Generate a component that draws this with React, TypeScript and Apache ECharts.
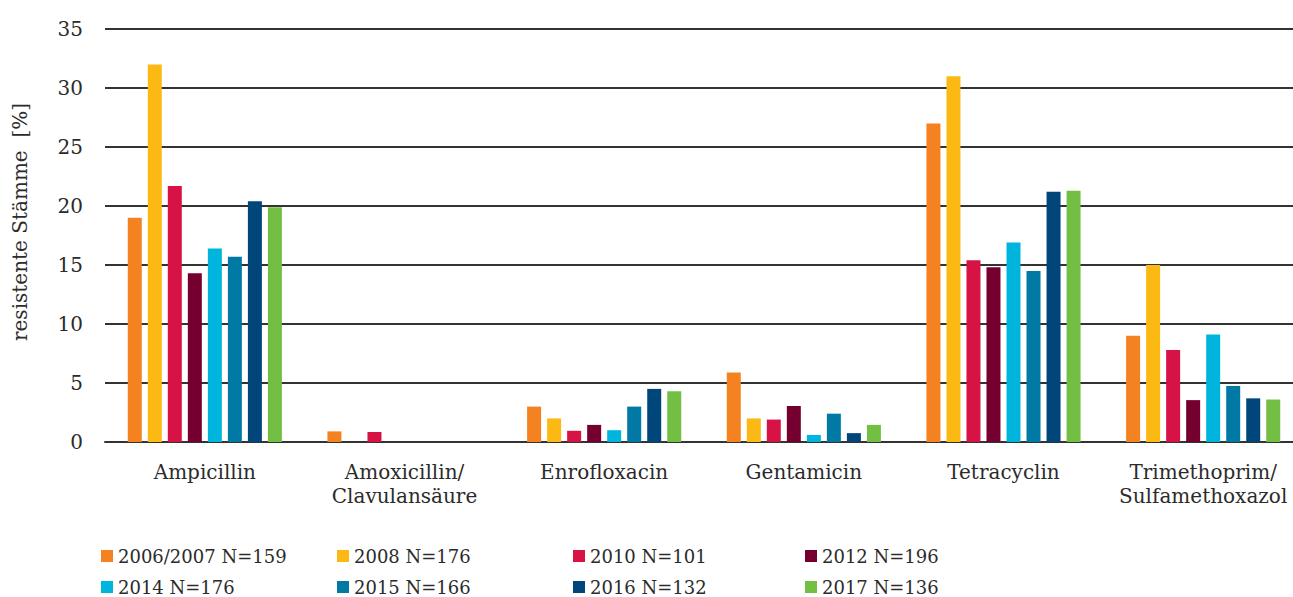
import React, { useEffect, useRef } from "react";
import * as echarts from "echarts";

const categories = [
  "Ampicillin",
  "Amoxicillin/\nClavulansäure",
  "Enrofloxacin",
  "Gentamicin",
  "Tetracyclin",
  "Trimethoprim/\nSulfamethoxazol",
];

const seriesNames = [
  "2006/2007 N=159",
  "2008 N=176",
  "2010 N=101",
  "2012 N=196",
  "2014 N=176",
  "2015 N=166",
  "2016 N=132",
  "2017 N=136",
];

const colors = ["#F58220", "#FDB913", "#D71345", "#750030", "#00B5DD", "#0079A5", "#00467A", "#72BF44"];

const v2006 = [19.0, 0.9, 3.0, 5.9, 27.0, 9.0];
const v2008 = [32.0, 0, 2.0, 2.0, 31.0, 15.0];
const v2010 = [21.7, 0.85, 0.95, 1.9, 15.4, 7.8];
const v2012 = [14.3, 0, 1.45, 3.05, 14.8, 3.55];
const v2014 = [16.4, 0, 1.0, 0.6, 16.9, 9.1];
const v2015 = [15.7, 0, 3.0, 2.4, 14.5, 4.75];
const v2016 = [20.4, 0, 4.5, 0.75, 21.2, 3.7];
const v2017 = [19.9, 0, 4.3, 1.45, 21.3, 3.6];

const seriesValues = [v2006, v2008, v2010, v2012, v2014, v2015, v2016, v2017];

const yTicks = { min: 0, max: 35, interval: 5 };

const legendLeft = [101, 337, 573, 805];
const legendTop = [547, 578];

const FONT = '"DejaVu Serif", serif';
const TEXT = "#2b2b2b";

export default function App() {
  const ref = useRef<HTMLDivElement>(null);
  useEffect(() => {
    if (!ref.current) return;
    const chart = echarts.init(ref.current, undefined, { renderer: "svg" });
    const legends = seriesNames.map((name, i) => ({
      data: [name],
      left: legendLeft[i % 4],
      top: legendTop[Math.floor(i / 4)],
      padding: 0,
      itemWidth: 12,
      itemHeight: 12,
      icon: "rect",
      selectedMode: false,
      textStyle: { fontFamily: FONT, fontSize: 18, color: TEXT, lineHeight: 18 },
    }));
    chart.setOption({
      animation: false,
      grid: { left: 105, top: 29, width: 1198, height: 413, containLabel: false },
      legend: legends,
      xAxis: {
        type: "category",
        data: categories,
        axisTick: { show: false },
        axisLine: { show: true, lineStyle: { color: "#333", width: 2 } },
        axisLabel: { fontFamily: FONT, fontSize: 20, lineHeight: 24, color: TEXT, margin: 18, interval: 0 },
      },
      yAxis: {
        type: "value",
        min: yTicks.min,
        max: yTicks.max,
        interval: yTicks.interval,
        axisLine: { show: false },
        axisTick: { show: false },
        axisLabel: { fontFamily: FONT, fontSize: 20, color: TEXT, margin: 22 },
        splitLine: { show: true, lineStyle: { color: "#333", width: 2 } },
      },
      graphic: [
        {
          type: "text",
          x: 20,
          y: 222,
          rotation: Math.PI / 2,
          style: {
            text: "resistente Stämme  [%]",
            fontFamily: FONT,
            fontSize: 20,
            fill: TEXT,
            align: "center",
            verticalAlign: "middle",
          },
        },
      ],
      series: seriesNames.map((name, i) => ({
        name,
        type: "bar",
        data: seriesValues[i],
        barWidth: 14,
        barGap: "43%",
        itemStyle: { color: colors[i] },
      })),
    });
    return () => chart.dispose();
  }, []);
  return (
    <div style={{ position: "absolute", left: 0, top: 0, width: 1293, height: 597, overflow: "hidden" }}>
      <div ref={ref} style={{ width: 1305, height: 597 }} />
    </div>
  );
}
